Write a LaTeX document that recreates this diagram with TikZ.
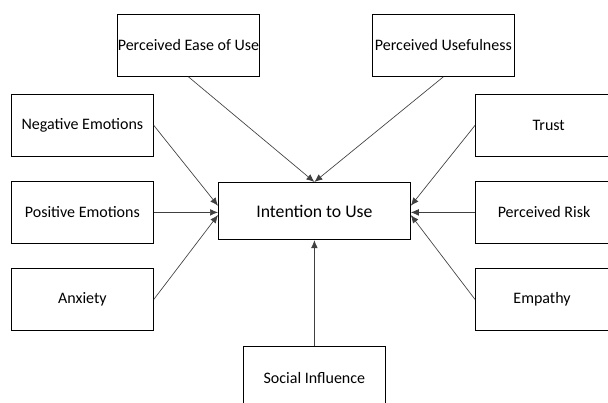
\documentclass[tikz,border=0pt]{standalone}
\usepackage{fontspec}
\setmainfont{Carlito}
\usetikzlibrary{positioning, arrows.meta}

\begin{document}
\begin{tikzpicture}[
    x=0.75pt, y=-0.75pt,
    % Global Styles
    factor/.style={
        rectangle,
        draw=black,
        line width=0.6pt,
        anchor=north west,
        align=center,
        inner xsep=0pt,
        minimum width=106.5pt,
        minimum height=46.5pt,
        font=\fontsize{12}{14}\selectfont
    },
    target/.style={
        factor,
        minimum width=144pt,
        minimum height=43pt,
        font=\fontsize{13.3}{15}\selectfont
    },
    arrow/.style={
        -{Latex[length=6pt,width=5pt]},
        line width=0.5pt,
        draw=black!75
    }
]
    \useasboundingbox (0,0) rectangle (608,403);

    % --- Placement of Nodes ---

    % Center Node
    \node[target] (intention) at (218,182) {Intention to Use};

    % Top Row
    \node[factor] (ease) at (117,14) {Perceived Ease of Use};
    \node[factor] (useful) at (372,14) {Perceived Usefulness};

    % Left Column
    \node[factor] (negative) at (11,94) {Negative Emotions};
    \node[factor] (positive) at (11,181) {Positive Emotions};
    \node[factor] (anxiety) at (11,268) {Anxiety};

    % Right Column (runs off the page edge)
    \node[factor, minimum width=110pt] (trust) at (475,94) {Trust};
    \node[factor, minimum width=103pt] (risk) at (475,181) {Perceived Risk};
    \node[factor, minimum width=100pt] (empathy) at (475,268) {Empathy};

    % Bottom (runs off the page edge)
    \node[factor, minimum height=48pt] (social) at (243,346) {Social Influence};

    % --- Connections ---
    \draw[arrow] (ease.south) -- (intention.north);
    \draw[arrow] (useful.south) -- (intention.north);

    \draw[arrow] (negative.east) -- ([yshift=4pt]intention.west);
    \draw[arrow] (positive.east) -- (positive.east -| intention.west);
    \draw[arrow] (anxiety.east) -- ([yshift=-3pt]intention.west);

    \draw[arrow] (trust.west) -- ([yshift=4pt]intention.east);
    \draw[arrow] (risk.west) -- (risk.west -| intention.east);
    \draw[arrow] (empathy.west) -- ([yshift=-3pt]intention.east);

    \draw[arrow] (social.north -| intention.south) -- (intention.south);

\end{tikzpicture}
\end{document}
